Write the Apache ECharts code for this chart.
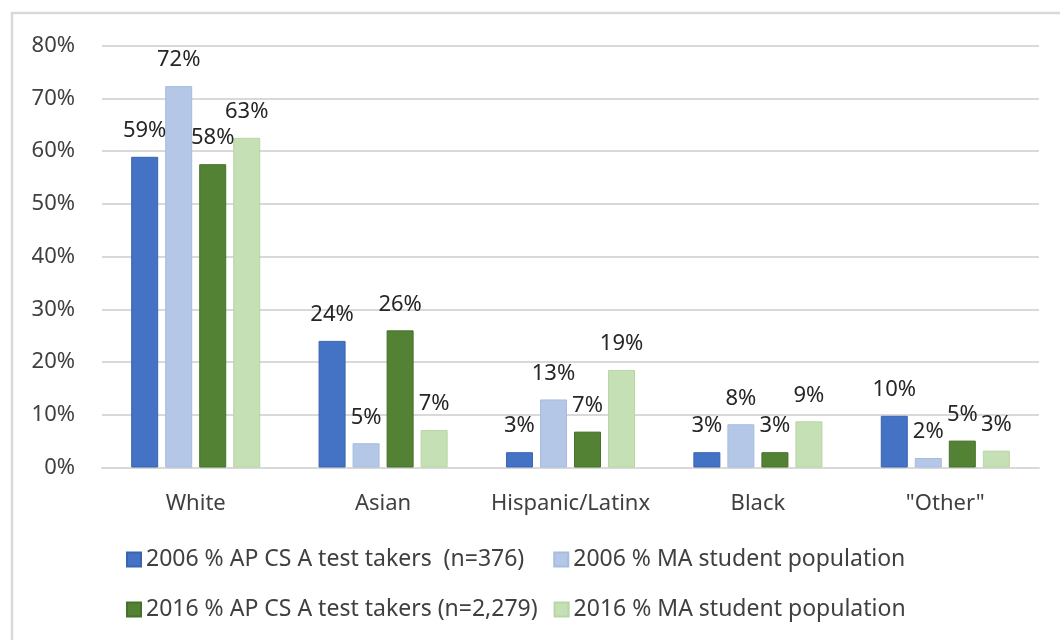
<!DOCTYPE html>
<html>
<head>
<meta charset="utf-8">
<script src="https://cdn.jsdelivr.net/npm/echarts@6/dist/echarts.min.js"></script>
<style>
  html, body { margin: 0; padding: 0; background: #fff; }
  #chart { width: 1060px; height: 640px; }
</style>
</head>
<body>
<div id="chart"></div>
<script>
// categories and series values (percent)
const categories = ['White', 'Asian', 'Hispanic/Latinx', 'Black', '"Other"'];
const seriesNames = [
  '2006 % AP CS A test takers  (n=376)',
  '2006 % MA student population',
  '2016 % AP CS A test takers (n=2,279)',
  '2016 % MA student population'
];
const ap2006 = [58.9, 24.0, 2.9, 2.9, 9.8];
const pop2006 = [72.3, 4.6, 12.9, 8.2, 1.8];
const ap2016 = [57.5, 26.0, 6.8, 2.9, 5.1];
const pop2016 = [62.5, 7.1, 18.5, 8.75, 3.2];
const yTicks = [0, 10, 20, 30, 40, 50, 60, 70, 80];

const colors = ['#4472C4', '#B4C7E7', '#548235', '#C5E0B4'];
const borders = ['#3A64B0', '#A6BCE0', '#46702B', '#B8D6A4'];
const FONT = '"Noto Sans", sans-serif';
const TXT = '#404040';

const chart = echarts.init(document.getElementById('chart'));

function makeSeries(name, values, i) {
  return {
    name: name,
    type: 'bar',
    data: values,
    barWidth: 27,
    barGap: '26%',
    itemStyle: { color: colors[i], borderColor: borders[i], borderWidth: 1 },
    label: {
      show: true,
      position: 'top',
      distance: 15,
      fontFamily: FONT,
      fontSize: 22,
      color: '#262626',
      formatter: p => Math.round(p.value) + '%'
    }
  };
}

chart.setOption({
  animation: false,
  backgroundColor: '#fff',
  color: colors,
  graphic: [{
    type: 'rect',
    shape: { x: 12, y: 13, width: 1200, height: 800 },
    style: { fill: 'none', stroke: '#d9d9d9', lineWidth: 2.5 },
    silent: true
  }],
  grid: { left: 102, right: 21, top: 45.5, bottom: 172.5 },
  legend: [
    {
      data: seriesNames.slice(0, 2),
      left: 126, top: 548, padding: 0,
      itemWidth: 14, itemHeight: 14, itemGap: 29,
      icon: 'rect',
      textStyle: { fontFamily: FONT, fontSize: 23, color: TXT }
    },
    {
      data: seriesNames.slice(2, 4),
      left: 126, top: 598, padding: 0,
      itemWidth: 14, itemHeight: 14, itemGap: 16,
      icon: 'rect',
      textStyle: { fontFamily: FONT, fontSize: 23, color: TXT }
    }
  ],
  xAxis: {
    type: 'category',
    data: categories,
    axisTick: { show: false },
    axisLine: { lineStyle: { color: '#d9d9d9', width: 2 } },
    axisLabel: { interval: 0, margin: 25, fontFamily: FONT, fontSize: 22, color: TXT }
  },
  yAxis: {
    type: 'value',
    min: yTicks[0],
    max: yTicks[yTicks.length - 1],
    interval: yTicks[1] - yTicks[0],
    axisLine: { show: false },
    axisTick: { show: false },
    splitLine: { lineStyle: { color: '#d9d9d9', width: 2 } },
    axisLabel: { margin: 27, fontFamily: FONT, fontSize: 22, color: TXT, formatter: '{value}%' }
  },
  series: [
    makeSeries(seriesNames[0], ap2006, 0),
    makeSeries(seriesNames[1], pop2006, 1),
    makeSeries(seriesNames[2], ap2016, 2),
    makeSeries(seriesNames[3], pop2016, 3)
  ]
});
</script>
</body>
</html>
